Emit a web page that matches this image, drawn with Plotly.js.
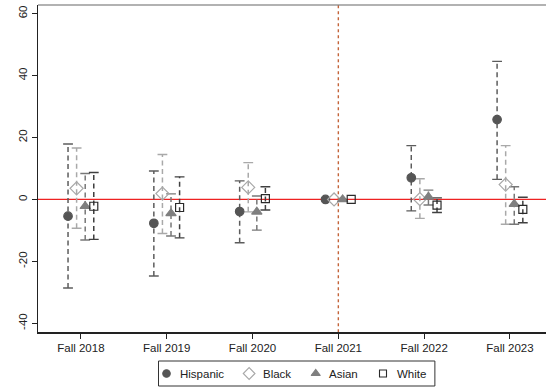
<!DOCTYPE html>
<html><head><meta charset="utf-8">
<script src="https://cdn.plot.ly/plotly-3.0.1.min.js"></script>
<style>html,body{margin:0;padding:0;background:#fff}#chart{width:546px;height:388px}</style>
</head><body><div id="chart"></div>
<script>
// ---- data ----
const categories = ['Fall 2018','Fall 2019','Fall 2020','Fall 2021','Fall 2022','Fall 2023'];
const seriesNames = ['Hispanic','Black','Asian','White'];
const hispanic   = [-5.4, -7.7, -3.9, 0, 7.0, 25.8];
const hispanicLo = [-28.6, -24.7, -14.0, null, -3.7, 6.5];
const hispanicHi = [17.9, 9.2, 6.0, null, 17.4, 44.6];
const black   = [3.6, 1.9, 3.9, 0, 0.1, 4.8];
const blackLo = [-9.3, -11.0, -4.0, null, -6.1, -8.0];
const blackHi = [16.6, 14.5, 11.9, null, 6.7, 17.4];
const asian   = [-2.2, -4.5, -4.0, 0, 0.8, -1.5];
const asianLo = [-13.1, -11.8, -9.9, null, -1.8, -8.0];
const asianHi = [8.4, 1.8, 1.1, null, 3.0, 4.1];
const white   = [-2.2, -2.6, 0.3, 0, -1.8, -3.2];
const whiteLo = [-12.9, -12.4, -3.4, null, -4.2, -7.5];
const whiteHi = [8.7, 7.3, 4.1, null, 0.5, 0.7];
const yTicks = [-40, -20, 0, 20, 40, 60];
const referenceCategory = 'Fall 2021';

// ---- styles ----
const FONT = "'Liberation Sans', Arial, sans-serif";
const FS = 11.5;
const styles = [
  {off:-0.15, symbol:'circle',        size:8.5, mcol:'#555555', mline:'#555555', bar:'#5c5c5c'},
  {off:-0.05, symbol:'diamond-open',  size:10,  mcol:'#a8a8a8', mline:'#a8a8a8', bar:'#a9a9a9'},
  {off: 0.05, symbol:'triangle-up',   size:9,   mcol:'#7f7f7f', mline:'#7f7f7f', bar:'#777777'},
  {off: 0.15, symbol:'square-open',   size:8,   mcol:'#2a2a2a', mline:'#2a2a2a', bar:'#404040'}
];
const series = [
  [hispanic, hispanicLo, hispanicHi],
  [black, blackLo, blackHi],
  [asian, asianLo, asianHi],
  [white, whiteLo, whiteHi]
];

const traces = [];
series.forEach((s, k) => {
  const st = styles[k];
  const [val, lo, hi] = s;
  const lx = [], ly = [], cx = [], cy = [];
  categories.forEach((c, i) => {
    if (lo[i] === null || hi[i] === null) return;
    const x = i + st.off;
    lx.push(x, x, null); ly.push(lo[i], hi[i], null);
    cx.push(x, x); cy.push(lo[i], hi[i]);
  });
  traces.push({x: lx, y: ly, mode: 'lines', xaxis:'x', yaxis:'y', showlegend:false, hoverinfo:'skip',
    line: {color: st.bar, width: 1.5, dash: '5px,3.5px'}});
  traces.push({x: cx, y: cy, mode: 'markers', xaxis:'x', yaxis:'y', showlegend:false, hoverinfo:'skip',
    marker: {symbol: 'line-ew', size: 7, line: {color: st.bar, width: 1.4}}});
});
series.forEach((s, k) => {
  const st = styles[k];
  traces.push({x: categories.map((c, i) => i + st.off), y: s[0], mode: 'markers', name: seriesNames[k],
    xaxis:'x', yaxis:'y', showlegend:false,
    marker: {symbol: st.symbol, size: st.size, color: st.mcol, line: {color: st.mline, width: 1.2}}});
});

// ---- custom legend (second, hidden axis pair in pixel units) ----
const cv = document.createElement('canvas').getContext('2d');
cv.font = FS + "px 'Liberation Sans'";
const widths = seriesNames.map(n => cv.measureText(n).width);
const symToText = 13.5, textToSym = 25, padL = 8, padR = 9;
let total = padL + padR + 3 * textToSym;
widths.forEach(w => total += symToText + w);
const boxCenter = 296.7, boxTop = 361, boxBot = 386;
const boxL = boxCenter - total / 2, boxR = boxCenter + total / 2;
const legY = (boxTop + boxBot) / 2;
const annotations = [];
let cur = boxL + padL;
seriesNames.forEach((n, k) => {
  const st = styles[k];
  traces.push({x: [cur], y: [legY], mode: 'markers', xaxis:'x2', yaxis:'y2', showlegend:false, hoverinfo:'skip',
    marker: {symbol: st.symbol, size: st.size - 1, color: st.mcol, line: {color: st.mline, width: 1.1}}});
  annotations.push({xref:'x2', yref:'y2', x: cur + symToText - 2, y: legY, xanchor:'left', yanchor:'middle',
    text: n, showarrow:false, font:{family: FONT, size: FS, color:'#222'}});
  cur += symToText + widths[k] + textToSym;
});

const yDomBottom = (388 - 332.3) / 383;
const layout = {
  width: 546, height: 388,
  margin: {l: 38, r: 0, t: 5, b: 0, pad: 0},
  paper_bgcolor: '#fff', plot_bgcolor: 'rgba(0,0,0,0)',
  showlegend: false,
  font: {family: FONT, size: FS, color: '#222'},
  xaxis: {domain:[0,1], anchor:'y', range:[-0.5, 5.42], tickvals: categories.map((c,i)=>i), ticktext: categories,
    ticks:'outside', ticklen:5, tickwidth:1, tickcolor:'#222', showline:true, linecolor:'#222', linewidth:1.2,
    showgrid:false, zeroline:false, tickfont:{family:FONT, size:FS, color:'#222'}, fixedrange:true},
  yaxis: {domain:[yDomBottom,1], anchor:'x', range:[-42.9, 62.8], tickvals: yTicks, ticktext: yTicks.map(String),
    ticks:'outside', ticklen:5, tickwidth:1, tickcolor:'#222', tickangle:-90, showline:true, linecolor:'#222', linewidth:1.2,
    showgrid:false, zeroline:false, tickfont:{family:FONT, size:FS, color:'#222'}, fixedrange:true},
  xaxis2: {domain:[0,1], anchor:'y2', range:[38, 546], visible:false, fixedrange:true},
  yaxis2: {domain:[0, yDomBottom], anchor:'x2', range:[388, 332.3], visible:false, fixedrange:true},
  shapes: [
    {type:'line', xref:'paper', x0:0, x1:1, yref:'y', y0:0, y1:0, layer:'below', line:{color:'#ee2222', width:1.3}},
    {type:'line', xref:'x', x0: categories.indexOf(referenceCategory), x1: categories.indexOf(referenceCategory),
      yref:'y domain', y0:0, y1:1, layer:'below', line:{color:'#c4643a', width:1.4, dash:'3px,3px'}},
    {type:'line', xref:'paper', x0:0, x1:1, yref:'y domain', y0:1, y1:1, line:{color:'#666', width:1.2}},
    {type:'rect', xref:'x2', yref:'y2', x0: boxL, x1: boxR, y0: boxTop, y1: boxBot, line:{color:'#333', width:1}, fillcolor:'rgba(0,0,0,0)'}
  ],
  annotations: annotations
};
Plotly.newPlot('chart', traces, layout, {staticPlot:true, displayModeBar:false});
</script></body></html>
